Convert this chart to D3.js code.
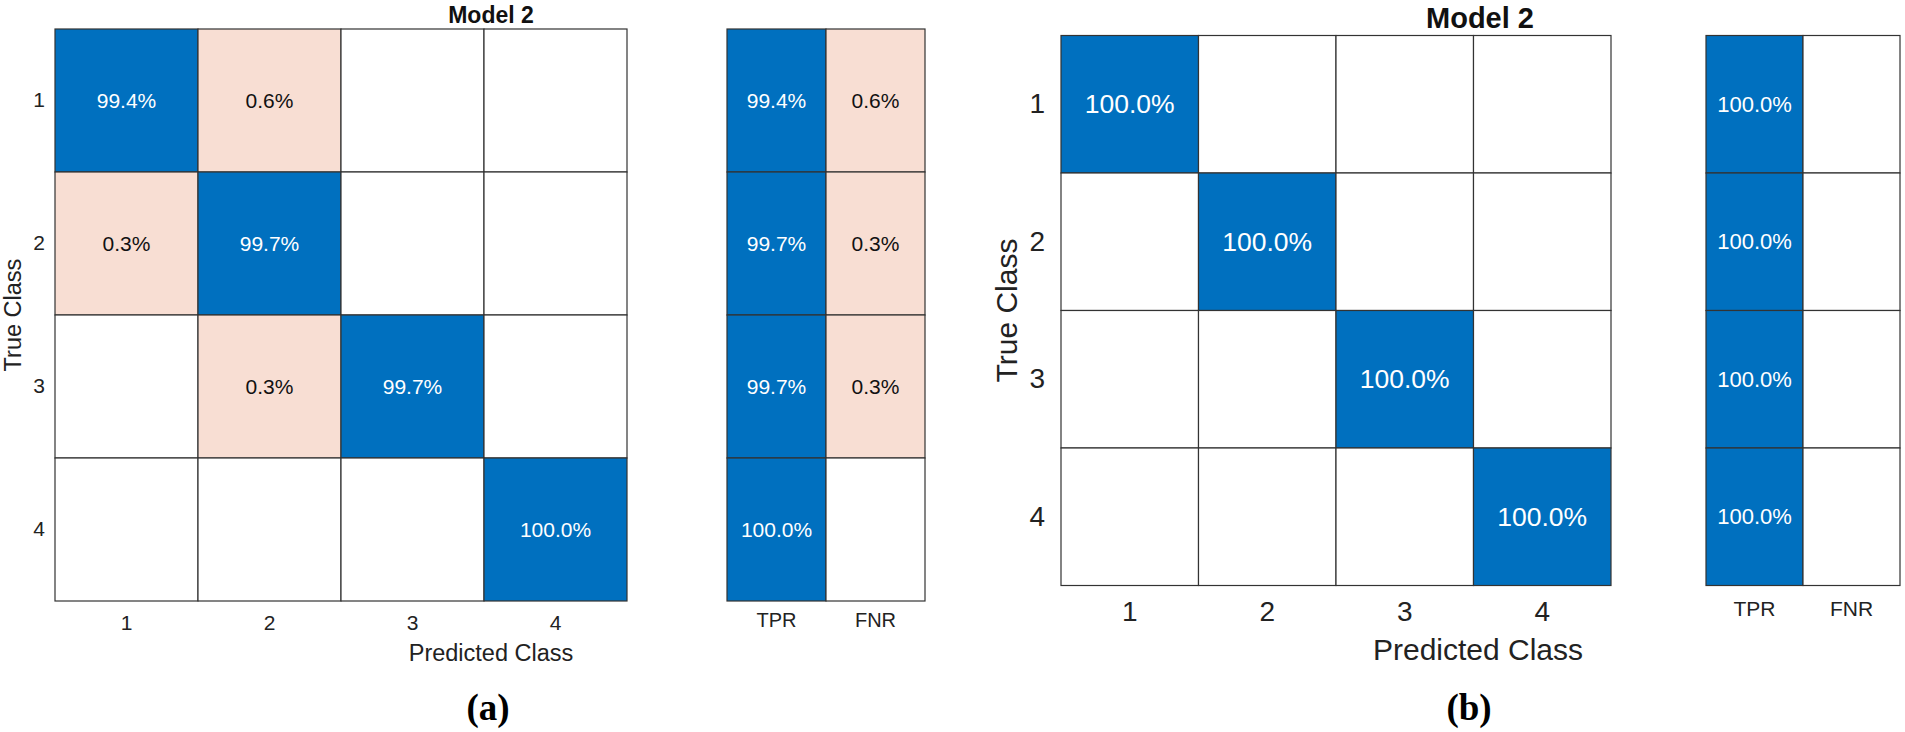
<!DOCTYPE html>
<html>
<head>
<meta charset="utf-8">
<script src="https://cdn.jsdelivr.net/npm/d3@7/dist/d3.min.js"></script>
<style>
  html, body { margin: 0; padding: 0; background: #ffffff; }
  svg { display: block; }
</style>
</head>
<body>
<svg id="chart" width="1905" height="732"></svg>
<script>
// ---------------- data ----------------
const classes = ["1", "2", "3", "4"];
const summaryLabels = ["TPR", "FNR"];
const titleA = "Model 2";
const titleB = "Model 2";
const xLabel = "Predicted Class";
const yLabel = "True Class";
const panelTags = ["(a)", "(b)"];

// row-normalised percentages (rows = true class, cols = predicted class)
const matrixA = [
  [99.4, 0.6, 0, 0],
  [0.3, 99.7, 0, 0],
  [0, 0.3, 99.7, 0],
  [0, 0, 0, 100.0]
];
const tprA = [99.4, 99.7, 99.7, 100.0];
const fnrA = [0.6, 0.3, 0.3, 0];

const matrixB = [
  [100.0, 0, 0, 0],
  [0, 100.0, 0, 0],
  [0, 0, 100.0, 0],
  [0, 0, 0, 100.0]
];
const tprB = [100.0, 100.0, 100.0, 100.0];
const fnrB = [0, 0, 0, 0];

// ---------------- style ----------------
const BLUE = "#0070bf";
const PINK = "#f8ded3";
const GRID = "#333333";
const SANS = "'Liberation Sans', Arial, sans-serif";
const SERIF = "'Liberation Serif', 'Times New Roman', serif";

const svg = d3.select("#chart");

function drawPanel(cfg) {
  const g = svg.append("g");

  // ---- main matrix ----
  const x = d3.scaleBand().domain(classes).range([cfg.main.x, cfg.main.x + cfg.main.w]);
  const y = d3.scaleBand().domain(classes).range([cfg.main.y, cfg.main.y + cfg.main.h]);

  const cells = [];
  cfg.matrix.forEach((row, i) => row.forEach((v, j) => cells.push({ r: classes[i], c: classes[j], v, diag: i === j })));

  const cg = g.append("g");
  cg.selectAll("rect").data(cells).join("rect")
    .attr("x", d => x(d.c)).attr("y", d => y(d.r))
    .attr("width", x.bandwidth()).attr("height", y.bandwidth())
    .attr("fill", d => d.v > 0 ? (d.diag ? BLUE : PINK) : "#ffffff")
    .attr("stroke", GRID).attr("stroke-width", 1.2);

  cg.selectAll("text").data(cells.filter(d => d.v > 0)).join("text")
    .attr("x", d => x(d.c) + x.bandwidth() / 2)
    .attr("y", d => y(d.r) + y.bandwidth() / 2)
    .attr("text-anchor", "middle").attr("dominant-baseline", "central")
    .attr("font-family", SANS).attr("font-size", cfg.cellFont)
    .attr("fill", d => d.diag ? "#ffffff" : "#111111")
    .text(d => d.v.toFixed(1) + "%");

  // axes (tick labels only)
  const xAxis = g.append("g")
    .attr("transform", `translate(0,${cfg.main.y + cfg.main.h})`)
    .call(d3.axisBottom(x).tickSize(0).tickPadding(cfg.xTickPad));
  const yAxis = g.append("g")
    .attr("transform", `translate(${cfg.main.x},0)`)
    .call(d3.axisLeft(y).tickSize(0).tickPadding(cfg.yTickPad));
  [xAxis, yAxis].forEach(a => {
    a.select(".domain").remove();
    a.selectAll("text").attr("font-family", SANS).attr("font-size", cfg.tickFont).attr("fill", "#222");
  });

  // ---- summary (TPR / FNR) ----
  const sx = d3.scaleBand().domain(summaryLabels).range([cfg.side.x, cfg.side.x + cfg.side.w]);
  const sy = d3.scaleBand().domain(classes).range([cfg.side.y, cfg.side.y + cfg.side.h]);
  const scells = [];
  classes.forEach((c, i) => {
    scells.push({ r: c, c: "TPR", v: cfg.tpr[i], good: true });
    scells.push({ r: c, c: "FNR", v: cfg.fnr[i], good: false });
  });
  const sg = g.append("g");
  sg.selectAll("rect").data(scells).join("rect")
    .attr("x", d => sx(d.c)).attr("y", d => sy(d.r))
    .attr("width", sx.bandwidth()).attr("height", sy.bandwidth())
    .attr("fill", d => d.v > 0 ? (d.good ? BLUE : PINK) : "#ffffff")
    .attr("stroke", GRID).attr("stroke-width", 1.2);
  sg.selectAll("text").data(scells.filter(d => d.v > 0)).join("text")
    .attr("x", d => sx(d.c) + sx.bandwidth() / 2)
    .attr("y", d => sy(d.r) + sy.bandwidth() / 2)
    .attr("text-anchor", "middle").attr("dominant-baseline", "central")
    .attr("font-family", SANS).attr("font-size", cfg.sideFont)
    .attr("fill", d => d.good ? "#ffffff" : "#111111")
    .text(d => d.v.toFixed(1) + "%");

  const sAxis = g.append("g")
    .attr("transform", `translate(0,${cfg.side.y + cfg.side.h})`)
    .call(d3.axisBottom(sx).tickSize(0).tickPadding(cfg.sideTickPad));
  sAxis.select(".domain").remove();
  sAxis.selectAll("text").attr("font-family", SANS).attr("font-size", cfg.sideLabelFont).attr("fill", "#222");

  // ---- labels ----
  g.append("text").attr("x", cfg.titleX).attr("y", cfg.titleY)
    .attr("text-anchor", "middle").attr("font-family", SANS)
    .attr("font-weight", "bold").attr("font-size", cfg.titleFont).attr("fill", "#111")
    .text(cfg.title);

  g.append("text").attr("x", cfg.xLabelX).attr("y", cfg.xLabelY)
    .attr("text-anchor", "middle").attr("font-family", SANS)
    .attr("font-size", cfg.labelFont).attr("fill", "#222")
    .text(xLabel);

  g.append("text")
    .attr("transform", `translate(${cfg.yLabelX},${cfg.main.y + cfg.main.h / 2}) rotate(-90)`)
    .attr("text-anchor", "middle").attr("font-family", SANS)
    .attr("font-size", cfg.labelFont).attr("fill", "#222")
    .text(yLabel);

  g.append("text").attr("x", cfg.tagX).attr("y", cfg.tagY)
    .attr("text-anchor", "middle").attr("font-family", SERIF)
    .attr("font-weight", "bold").attr("font-size", 37).attr("fill", "#000")
    .text(cfg.tag);
}

drawPanel({
  matrix: matrixA, tpr: tprA, fnr: fnrA, title: titleA, tag: panelTags[0],
  main: { x: 55, y: 29, w: 572, h: 572 },
  side: { x: 727, y: 29, w: 198, h: 572 },
  cellFont: 21, tickFont: 21, sideFont: 21, sideLabelFont: 20,
  labelFont: 23.5, titleFont: 23,
  xTickPad: 14, yTickPad: 10, sideTickPad: 12,
  titleX: 491, titleY: 23,
  xLabelX: 491, xLabelY: 661,
  yLabelX: 21,
  tagX: 488, tagY: 720
});

drawPanel({
  matrix: matrixB, tpr: tprB, fnr: fnrB, title: titleB, tag: panelTags[1],
  main: { x: 1061, y: 35.5, w: 550, h: 550 },
  side: { x: 1706, y: 35.5, w: 194, h: 550 },
  cellFont: 26.5, tickFont: 28, sideFont: 22, sideLabelFont: 21,
  labelFont: 30, titleFont: 29,
  xTickPad: 16, yTickPad: 16, sideTickPad: 16,
  titleX: 1480, titleY: 28,
  xLabelX: 1478, xLabelY: 660,
  yLabelX: 1017,
  tagX: 1469, tagY: 720
});
</script>
</body>
</html>
